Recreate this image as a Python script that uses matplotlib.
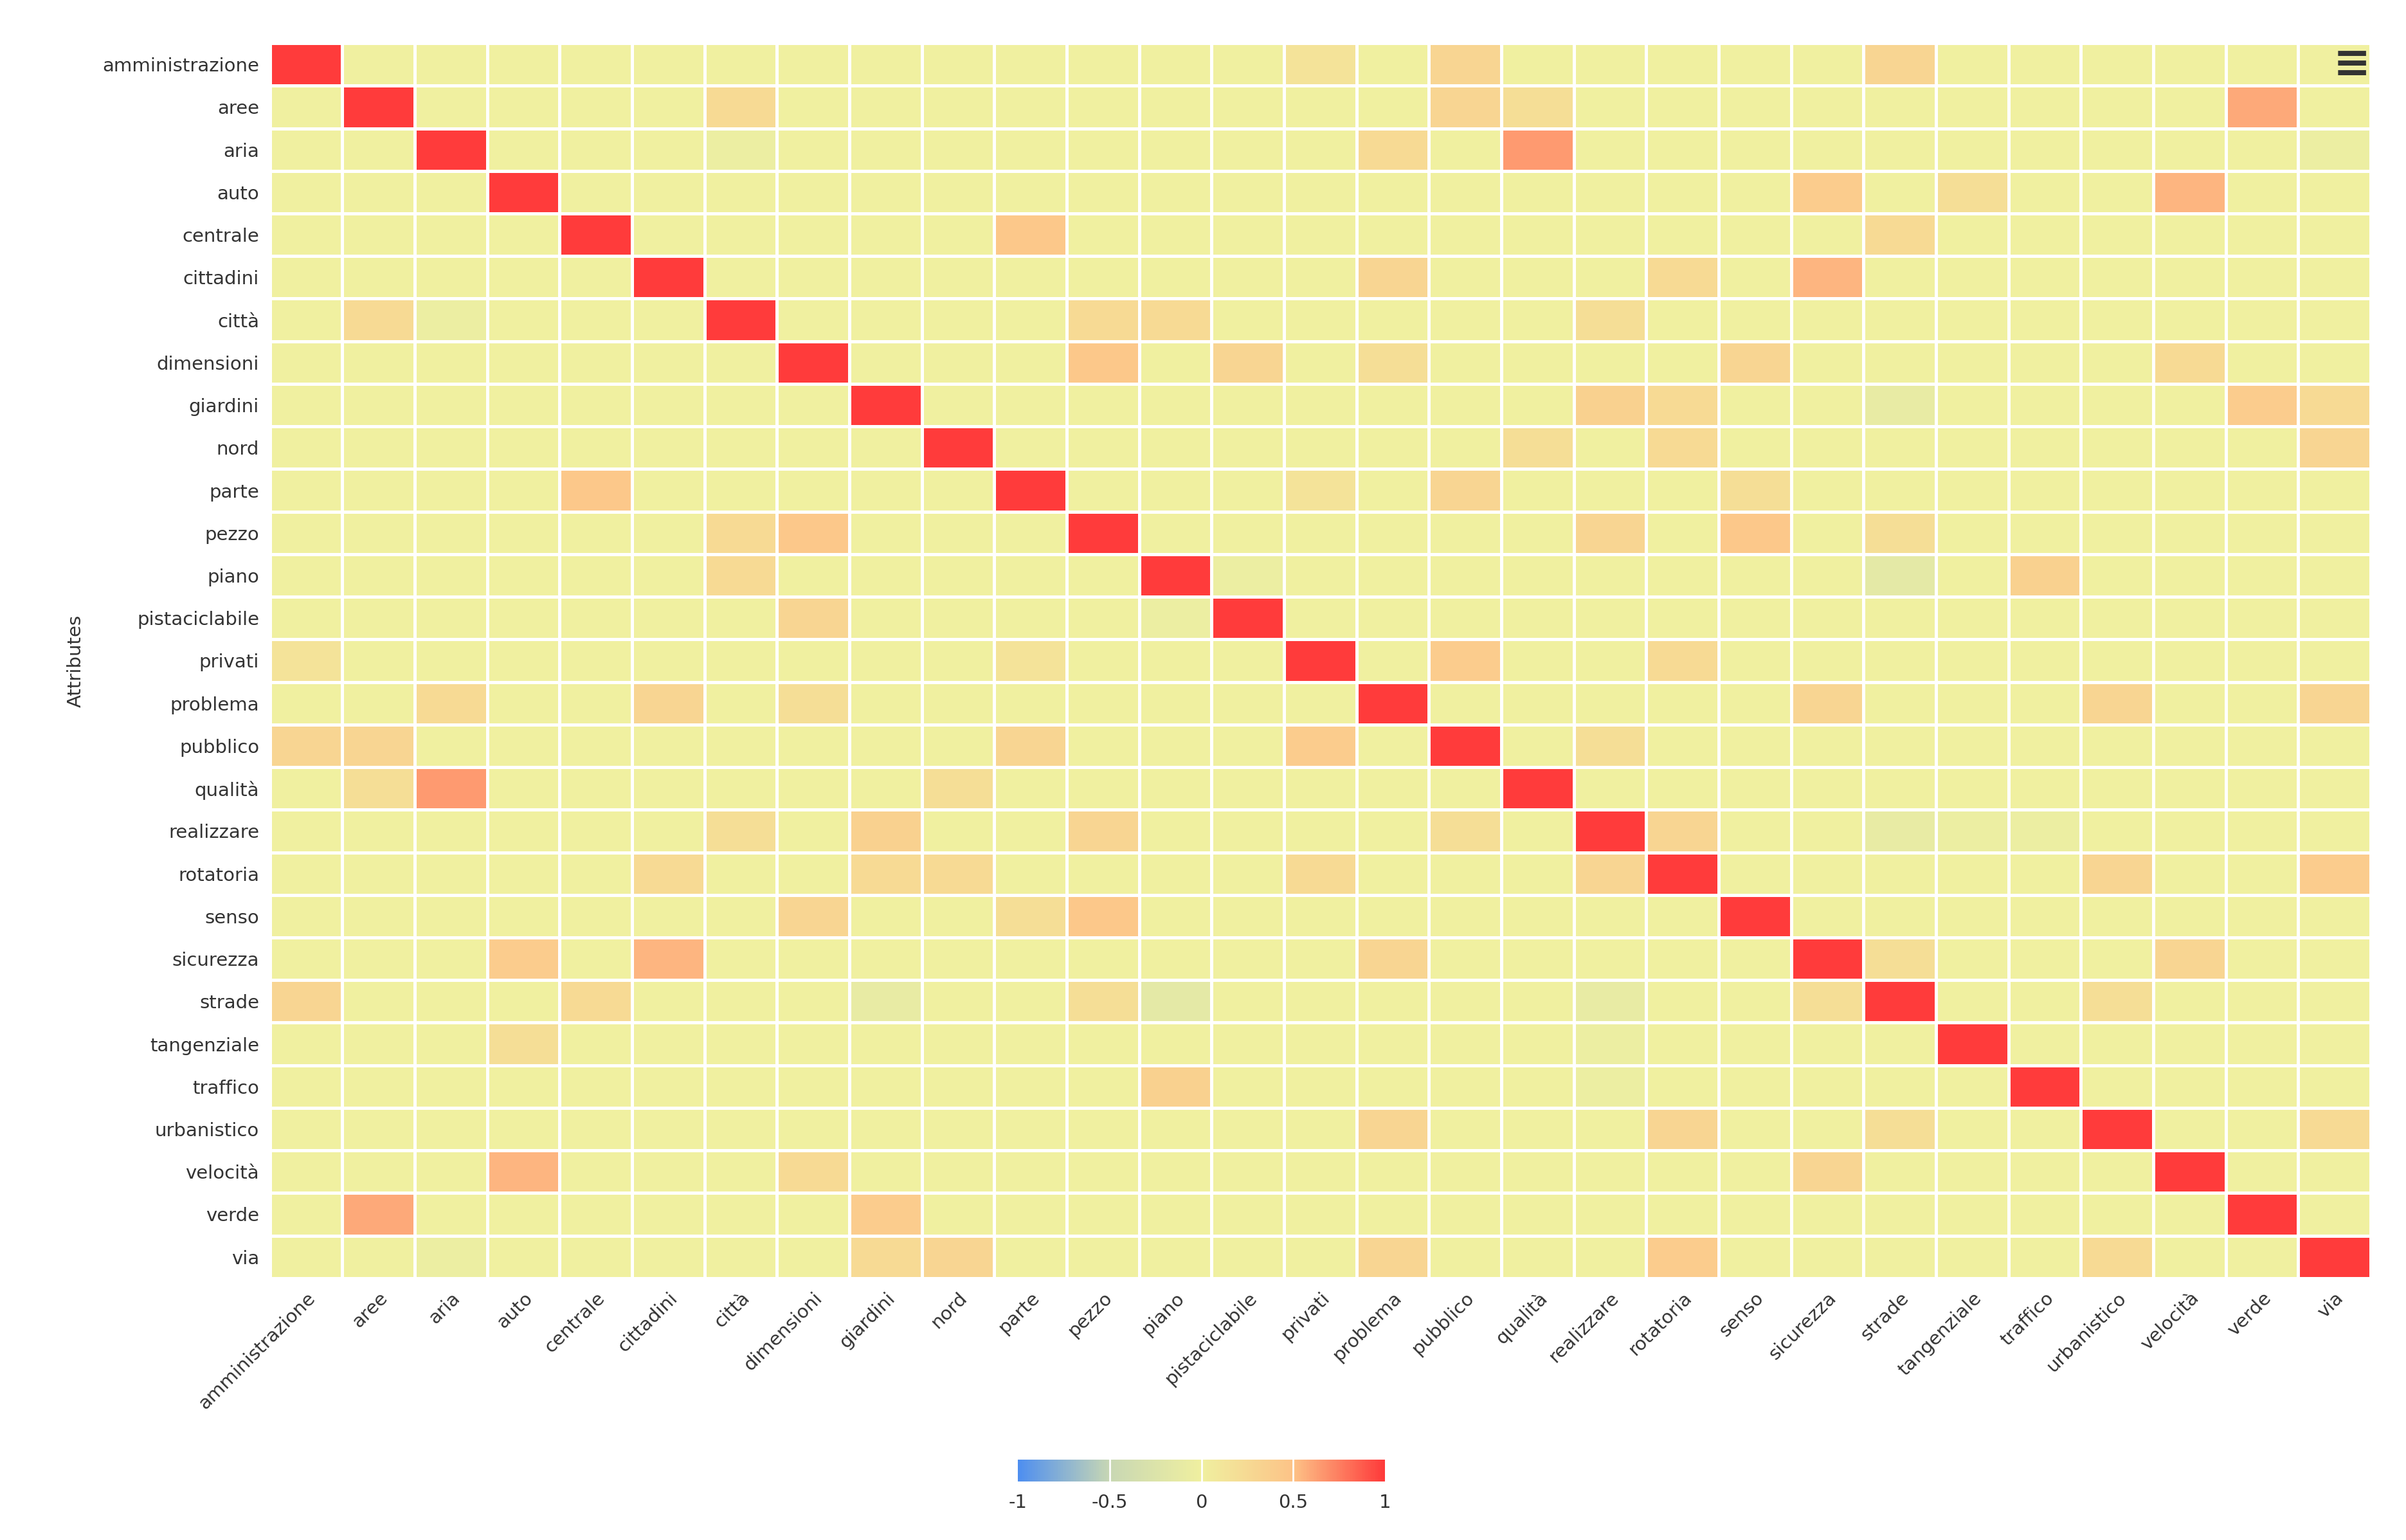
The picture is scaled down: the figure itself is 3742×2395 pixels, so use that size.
import numpy as np
import matplotlib
matplotlib.use("Agg")
import matplotlib.pyplot as plt
from matplotlib.colors import LinearSegmentedColormap

labels = ["amministrazione","aree","aria","auto","centrale","cittadini","città","dimensioni",
          "giardini","nord","parte","pezzo","piano","pistaciclabile","privati","problema",
          "pubblico","qualità","realizzare","rotatoria","senso","sicurezza","strade",
          "tangenziale","traffico","urbanistico","velocità","verde","via"]

background = 0.0
pairs_a = ["amministrazione","amministrazione","amministrazione","aree","aree","aree","aree",
           "aria","aria","auto","auto","auto","centrale","centrale","cittadini","cittadini",
           "cittadini","città","città","città","dimensioni","dimensioni","dimensioni","dimensioni",
           "dimensioni","giardini","giardini","giardini","giardini","nord","nord","nord","parte",
           "parte","parte","pezzo","pezzo","pezzo","piano","piano","privati","privati","problema",
           "problema","problema","pubblico","realizzare","realizzare","realizzare","rotatoria",
           "rotatoria","sicurezza","sicurezza","strade","urbanistico","piano","piano","aria",
           "strade","strade","tangenziale","traffico","aria"]
pairs_b = ["pubblico","strade","privati","verde","pubblico","qualità","città",
           "qualità","problema","velocità","sicurezza","tangenziale","parte","strade","sicurezza",
           "problema","rotatoria","pezzo","piano","realizzare","pezzo","pistaciclabile","senso",
           "velocità","problema","realizzare","verde","rotatoria","via","qualità","rotatoria","via",
           "pubblico","privati","senso","realizzare","senso","strade","traffico","strade","pubblico",
           "rotatoria","sicurezza","urbanistico","via","realizzare","rotatoria","traffico","strade",
           "urbanistico","via","velocità","strade","urbanistico","via","pistaciclabile","realizzare",
           "via","giardini","piano","realizzare","realizzare","città"]
pair_vals = [0.3,0.3,0.15,0.6,0.3,0.2,0.25,
             0.65,0.25,0.55,0.4,0.2,0.45,0.25,0.55,
             0.3,0.25,0.25,0.25,0.2,0.45,0.3,0.3,
             0.25,0.2,0.35,0.4,0.25,0.25,0.2,0.25,0.3,
             0.3,0.15,0.2,0.3,0.45,0.2,0.35,-0.15,0.4,
             0.25,0.3,0.3,0.3,0.2,0.3,-0.15,-0.1,
             0.3,0.4,0.3,0.2,0.2,0.25,-0.05,0.0,
             -0.05,-0.1,-0.15,-0.05,-0.05,-0.05]

n = len(labels)
M = np.full((n, n), background)
for a, b, v in zip(pairs_a, pairs_b, pair_vals):
    i, j = labels.index(a), labels.index(b)
    M[i, j] = M[j, i] = v
np.fill_diagonal(M, 1.0)

cmap = LinearSegmentedColormap.from_list("c", [(0, "#4f8ff0"), (0.25, "#c9d8b4"),
                                               (0.5, "#f0f0a0"), (0.75, "#fdc488"), (1, "#ff3b3b")])

fig = plt.figure(figsize=(37.42, 23.95), dpi=100)
ax = fig.add_axes([175/1560, 1-830/1000, (1537-175)/1560, (830-28)/1000])
ax.pcolormesh(np.arange(n+1), np.arange(n+1), M, cmap=cmap, vmin=-1, vmax=1,
              edgecolor="white", linewidth=2.5)
ax.set_xlim(0, n); ax.set_ylim(n, 0)
ax.set_xticks(np.arange(n)+0.5)
ax.set_xticklabels(labels, rotation=45, ha="right", rotation_mode="anchor", fontsize=21, color="#333333")
ax.set_yticks(np.arange(n)+0.5)
ax.set_yticklabels(labels, fontsize=21, color="#333333")
ax.tick_params(length=0, pad=12)
for s in ax.spines.values():
    s.set_visible(False)
ax.set_ylabel("Attributes", fontsize=21, color="#333333", labelpad=20)

fig.text(1525/1560, 1-42/1000, "≡", fontsize=50, ha="center", va="center", color="#333333", weight="bold")

cax = fig.add_axes([660/1560, 1-962/1000, 238/1560, 14/1000])
grad = np.linspace(-1, 1, 400).reshape(1, -1)
cax.imshow(grad, cmap=cmap, aspect="auto", extent=[-1, 1, 0, 1])
for x in [-0.5, 0, 0.5]:
    cax.axvline(x, color="white", lw=2)
cax.set_yticks([])
cax.set_xticks([-1, -0.5, 0, 0.5, 1])
cax.set_xticklabels(["-1", "-0.5", "0", "0.5", "1"], fontsize=21, color="#333333")
cax.tick_params(length=0, pad=14)
for s in cax.spines.values():
    s.set_visible(False)

fig.savefig("out.png", dpi=100)
